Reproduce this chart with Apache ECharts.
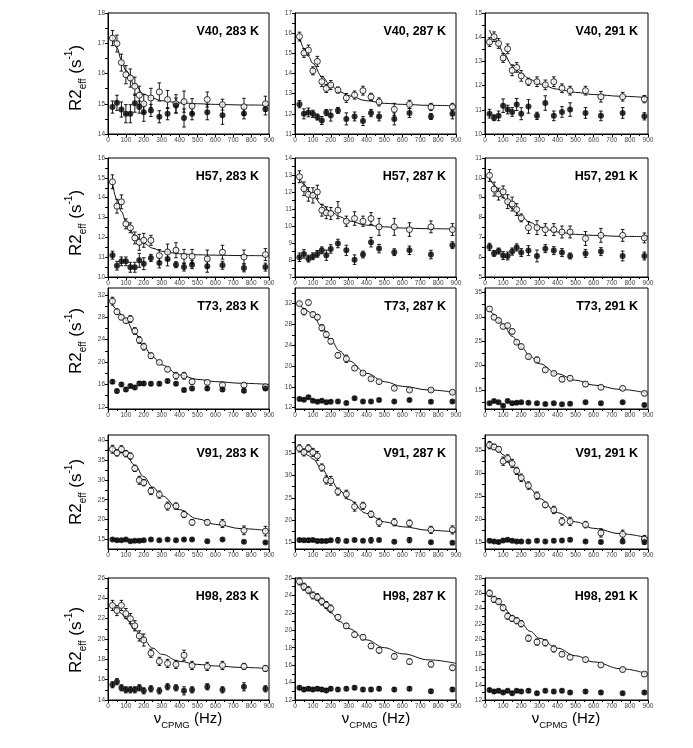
<!DOCTYPE html>
<html><head><meta charset="utf-8">
<script src="https://cdn.jsdelivr.net/npm/echarts@6/dist/echarts.min.js"></script>
<style>html,body{margin:0;padding:0;background:#fff}#c{width:693px;height:748px}</style>
</head><body><div id="c"></div>
<script>
// ---- common data ----
const X = [25, 50, 75, 100, 125, 150, 175, 200, 240, 287, 333, 380, 425, 470, 555, 640, 760, 880];
const FIT_X = [25, 50, 75, 100, 150, 200, 250, 300, 400, 500, 600, 750, 900];
const X_TICKS = [0, 100, 200, 300, 400, 500, 600, 700, 800, 900];
const TITLES = ['V40, 283 K','V40, 287 K','V40, 291 K','H57, 283 K','H57, 287 K','H57, 291 K','T73, 283 K','T73, 287 K','T73, 291 K','V91, 283 K','V91, 287 K','V91, 291 K','H98, 283 K','H98, 287 K','H98, 291 K'];

// ---- y tick labels per panel ----
const Y_TICKS_V40_283 = [14, 15, 16, 17, 18];
const Y_TICKS_V40_287 = [11, 12, 13, 14, 15, 16, 17];
const Y_TICKS_V40_291 = [10, 11, 12, 13, 14, 15];
const Y_TICKS_H57_283 = [10, 11, 12, 13, 14, 15, 16];
const Y_TICKS_H57_287 = [7, 8, 9, 10, 11, 12, 13, 14];
const Y_TICKS_H57_291 = [5, 6, 7, 8, 9, 10, 11];
const Y_TICKS_T73_283 = [12, 16, 20, 24, 28, 32];
const Y_TICKS_T73_287 = [12, 16, 20, 24, 28, 32];
const Y_TICKS_T73_291 = [15, 20, 25, 30, 35];
const Y_TICKS_V91_283 = [15, 20, 25, 30, 35, 40];
const Y_TICKS_V91_287 = [15, 20, 25, 30, 35];
const Y_TICKS_V91_291 = [15, 20, 25, 30, 35];
const Y_TICKS_H98_283 = [14, 16, 18, 20, 22, 24, 26];
const Y_TICKS_H98_287 = [12, 14, 16, 18, 20, 22, 24, 26];
const Y_TICKS_H98_291 = [12, 14, 16, 18, 20, 22, 24, 26, 28];

// ---- V40 ----
const V40_283_open = [17.17, 16.99, 16.36, 15.96, 15.85, 15.58, 15.28, 15.0, 15.19, 15.39, 15.14, 15.0, 15.07, 14.92, 15.14, 14.97, 14.9, 15.0];
const V40_283_openErr = [0.25, 0.28, 0.28, 0.3, 0.3, 0.3, 0.3, 0.3, 0.32, 0.3, 0.3, 0.3, 0.35, 0.25, 0.25, 0.18, 0.28, 0.25];
const V40_283_filled = [14.89, 15.03, 14.81, 14.67, 14.67, 15.02, 14.89, 14.72, 14.78, 14.57, 14.67, 14.94, 14.53, 14.67, 14.72, 14.62, 14.68, 14.83];
const V40_283_filledErr = [0.2, 0.25, 0.25, 0.3, 0.3, 0.3, 0.2, 0.3, 0.2, 0.2, 0.2, 0.25, 0.3, 0.2, 0.25, 0.3, 0.18, 0.2];
const V40_283_fit = [17.25, 16.85, 16.45, 16.1, 15.62, 15.32, 15.18, 15.1, 15.03, 15.0, 14.98, 14.96, 14.95];

const V40_287_open = [15.83, 15.02, 15.16, 14.13, 14.6, 13.6, 13.26, 13.43, 13.18, 12.79, 12.93, 13.15, 12.84, 12.59, 12.22, 12.47, 12.34, 12.34];
const V40_287_openErr = [0.22, 0.22, 0.25, 0.2, 0.25, 0.25, 0.2, 0.22, 0.15, 0.22, 0.2, 0.22, 0.18, 0.2, 0.3, 0.2, 0.18, 0.18];
const V40_287_filled = [12.48, 12.0, 12.07, 12.0, 11.84, 11.67, 12.06, 11.92, 12.17, 11.75, 11.87, 11.64, 12.04, 11.87, 11.75, 12.04, 11.87, 12.0];
const V40_287_filledErr = [0.18, 0.25, 0.22, 0.18, 0.15, 0.2, 0.15, 0.28, 0.15, 0.3, 0.22, 0.22, 0.18, 0.22, 0.3, 0.22, 0.15, 0.25];
const V40_287_fit = [15.85, 15.25, 14.85, 14.5, 13.85, 13.4, 13.1, 12.9, 12.65, 12.52, 12.47, 12.42, 12.4];

const V40_291_open = [13.8, 14.02, 13.74, 13.14, 13.52, 12.63, 12.75, 12.4, 12.16, 12.16, 12.03, 12.16, 11.89, 11.79, 11.79, 11.54, 11.54, 11.44];
const V40_291_openErr = [0.18, 0.2, 0.2, 0.18, 0.2, 0.22, 0.2, 0.22, 0.15, 0.2, 0.2, 0.2, 0.18, 0.18, 0.18, 0.22, 0.18, 0.15];
const V40_291_filled = [10.84, 10.67, 10.75, 11.17, 11.01, 10.91, 11.22, 10.84, 11.14, 10.75, 11.28, 10.75, 10.91, 11.01, 10.87, 10.75, 10.87, 10.73];
const V40_291_filledErr = [0.18, 0.12, 0.2, 0.28, 0.18, 0.18, 0.25, 0.25, 0.28, 0.15, 0.3, 0.2, 0.22, 0.28, 0.22, 0.2, 0.22, 0.15];
const V40_291_fit = [14.3, 14.0, 13.7, 13.35, 12.85, 12.5, 12.25, 12.07, 11.85, 11.72, 11.63, 11.56, 11.5];

// ---- H57 ----
const H57_283_open = [14.8, 13.57, 13.79, 12.68, 12.48, 11.97, 11.75, 11.85, 11.85, 11.08, 11.26, 11.35, 11.04, 11.04, 10.91, 11.25, 11.01, 11.13];
const H57_283_openErr = [0.35, 0.35, 0.35, 0.25, 0.25, 0.3, 0.4, 0.35, 0.25, 0.3, 0.4, 0.38, 0.35, 0.35, 0.45, 0.35, 0.35, 0.3];
const H57_283_filled = [11.1, 10.57, 10.79, 10.79, 10.49, 10.49, 10.84, 10.67, 10.96, 10.71, 10.91, 10.62, 10.5, 10.62, 10.54, 10.59, 10.46, 10.5];
const H57_283_filledErr = [0.2, 0.22, 0.22, 0.22, 0.25, 0.25, 0.35, 0.3, 0.18, 0.25, 0.35, 0.15, 0.2, 0.2, 0.3, 0.2, 0.2, 0.2];
const H57_283_fit = [14.75, 13.9, 13.3, 12.8, 12.1, 11.7, 11.45, 11.3, 11.17, 11.12, 11.1, 11.08, 11.07];

const H57_287_open = [12.9, 12.19, 11.86, 11.8, 12.0, 10.93, 10.78, 10.74, 10.93, 10.28, 10.44, 10.28, 10.44, 9.95, 9.95, 9.79, 9.95, 9.79];
const H57_287_openErr = [0.35, 0.4, 0.4, 0.45, 0.4, 0.35, 0.35, 0.35, 0.5, 0.3, 0.4, 0.3, 0.35, 0.5, 0.5, 0.4, 0.35, 0.35];
const H57_287_filled = [8.16, 8.36, 8.08, 8.22, 8.36, 8.57, 8.28, 8.65, 8.97, 8.57, 8.02, 8.32, 9.05, 8.67, 8.46, 8.57, 8.32, 8.87];
const H57_287_filledErr = [0.25, 0.25, 0.2, 0.2, 0.2, 0.2, 0.3, 0.25, 0.25, 0.3, 0.28, 0.2, 0.28, 0.25, 0.2, 0.25, 0.25, 0.2];
const H57_287_fit = [12.85, 12.45, 12.1, 11.8, 11.25, 10.85, 10.55, 10.3, 10.05, 9.95, 9.88, 9.84, 9.82];

const H57_291_open = [10.12, 9.43, 9.18, 9.29, 8.8, 8.68, 8.4, 7.98, 7.49, 7.49, 7.39, 7.39, 7.27, 7.27, 6.94, 7.1, 7.1, 6.97];
const H57_291_openErr = [0.3, 0.35, 0.3, 0.3, 0.35, 0.35, 0.3, 0.2, 0.3, 0.35, 0.3, 0.3, 0.3, 0.3, 0.35, 0.35, 0.3, 0.25];
const H57_291_filled = [6.52, 6.19, 6.31, 6.08, 6.06, 6.28, 6.49, 6.23, 6.33, 6.06, 6.43, 6.33, 6.23, 6.06, 6.19, 6.28, 6.06, 6.06];
const H57_291_filledErr = [0.18, 0.15, 0.15, 0.2, 0.2, 0.18, 0.18, 0.2, 0.25, 0.3, 0.2, 0.2, 0.2, 0.15, 0.2, 0.2, 0.25, 0.2];
const H57_291_fit = [10.05, 9.65, 9.3, 9.0, 8.45, 8.05, 7.75, 7.52, 7.27, 7.15, 7.1, 7.05, 7.03];

// ---- T73 ----
const T73_283_open = [30.9, 29.0, 28.0, 27.4, 27.7, 25.55, 23.94, 22.75, 21.13, 19.94, 18.7, 17.55, 17.55, 16.48, 16.36, 15.88, 15.88, 15.58];
const T73_283_openErr = [0.7, 0.5, 0.4, 0.4, 0.6, 0.6, 0.6, 0.6, 0.5, 0.3, 0.4, 0.6, 0.6, 0.5, 0.4, 0.4, 0.4, 0.4];
const T73_283_filled = [16.48, 14.8, 16.0, 15.1, 15.7, 15.46, 16.18, 16.18, 16.12, 16.12, 16.6, 16.12, 14.98, 15.28, 15.28, 15.1, 14.87, 15.28];
const T73_283_filledErr = [0.3, 0.3, 0.3, 0.3, 0.3, 0.3, 0.3, 0.3, 0.3, 0.3, 0.3, 0.3, 0.3, 0.3, 0.3, 0.3, 0.3, 0.3];
const T73_283_fit = [30.3, 29.4, 28.5, 27.5, 25.2, 22.8, 20.9, 19.5, 17.7, 16.9, 16.5, 16.2, 16.0];

const T73_287_open = [32.0, 30.45, 32.2, 29.9, 29.4, 27.35, 26.06, 24.77, 22.06, 21.4, 19.6, 18.65, 17.55, 17.0, 15.74, 15.4, 15.4, 14.97];
const T73_287_openErr = [0.3, 0.6, 0.5, 0.5, 0.5, 0.6, 0.6, 0.5, 0.5, 0.7, 0.4, 0.3, 0.3, 0.3, 0.3, 0.3, 0.3, 0.3];
const T73_287_filled = [13.68, 13.55, 14.0, 13.35, 13.15, 13.35, 13.03, 13.15, 13.2, 12.9, 13.8, 13.2, 13.2, 13.48, 13.2, 13.48, 13.15, 13.2];
const T73_287_filledErr = [0.25, 0.25, 0.25, 0.25, 0.25, 0.25, 0.25, 0.25, 0.25, 0.25, 0.25, 0.25, 0.25, 0.25, 0.25, 0.25, 0.25, 0.25];
const T73_287_fit = [31.8, 31.1, 30.5, 29.7, 27.5, 25.0, 22.9, 21.0, 18.6, 17.0, 16.1, 15.4, 14.9];

const T73_291_open = [31.6, 29.9, 29.25, 28.0, 28.2, 27.0, 24.8, 23.9, 21.85, 21.16, 19.1, 18.4, 17.2, 17.4, 16.2, 15.55, 15.34, 14.3];
const T73_291_openErr = [0.5, 0.4, 0.4, 0.4, 0.4, 0.5, 0.4, 0.5, 0.5, 0.6, 0.4, 0.4, 0.5, 0.5, 0.5, 0.4, 0.4, 0.4];
const T73_291_filled = [12.26, 12.74, 12.47, 11.78, 12.74, 12.26, 12.4, 12.47, 12.4, 12.26, 12.12, 12.26, 12.05, 12.19, 12.47, 12.26, 12.47, 11.92];
const T73_291_filledErr = [0.25, 0.25, 0.25, 0.25, 0.25, 0.25, 0.25, 0.25, 0.25, 0.25, 0.25, 0.25, 0.25, 0.25, 0.25, 0.25, 0.25, 0.25];
const T73_291_fit = [31.5, 30.5, 29.5, 28.4, 26.0, 23.8, 21.9, 20.4, 18.3, 17.0, 16.0, 15.1, 14.3];

// ---- V91 ----
const V91_283_open = [37.7, 36.8, 37.7, 36.6, 36.0, 32.9, 29.9, 29.3, 27.2, 26.3, 23.4, 23.4, 21.3, 19.3, 19.3, 19.0, 17.3, 17.1];
const V91_283_openErr = [1.0, 0.8, 0.9, 0.8, 0.8, 0.8, 1.0, 0.8, 0.9, 0.9, 1.0, 0.8, 0.8, 0.7, 0.7, 1.0, 1.1, 1.2];
const V91_283_filled = [15.0, 14.83, 14.83, 15.0, 14.58, 14.66, 14.66, 14.83, 15.0, 14.83, 15.0, 14.83, 15.0, 15.0, 14.58, 15.0, 14.41, 14.25];
const V91_283_filledErr = [0.3, 0.3, 0.3, 0.3, 0.3, 0.3, 0.3, 0.3, 0.3, 0.3, 0.3, 0.3, 0.3, 0.3, 0.3, 0.3, 0.3, 0.3];
const V91_283_fit = [38.1, 37.6, 37.0, 36.2, 33.7, 30.8, 28.2, 26.0, 22.5, 20.2, 18.8, 17.7, 17.2];

const V91_287_open = [36.1, 35.2, 36.1, 35.2, 34.4, 31.8, 29.0, 28.8, 26.4, 25.8, 23.0, 23.2, 21.3, 19.5, 19.5, 19.3, 17.8, 17.8];
const V91_287_openErr = [0.8, 0.8, 0.8, 0.9, 1.0, 0.8, 0.9, 1.0, 0.8, 0.9, 1.0, 0.8, 0.7, 0.9, 0.8, 0.7, 0.8, 0.9];
const V91_287_filled = [15.5, 15.45, 15.45, 15.5, 15.3, 15.3, 15.3, 15.45, 15.45, 15.3, 15.5, 15.37, 15.45, 15.5, 15.15, 15.5, 15.0, 14.9];
const V91_287_filledErr = [0.3, 0.3, 0.4, 0.3, 0.3, 0.3, 0.3, 0.3, 0.6, 0.3, 0.3, 0.3, 0.6, 0.3, 0.3, 0.6, 0.3, 0.3];
const V91_287_fit = [35.6, 35.1, 34.5, 33.7, 31.5, 28.9, 26.6, 24.6, 21.5, 19.6, 18.5, 17.7, 17.3];

const V91_291_open = [36.1, 35.7, 35.2, 32.6, 33.2, 32.1, 30.5, 29.0, 27.3, 25.1, 23.1, 22.0, 19.5, 19.5, 18.8, 17.0, 16.7, 15.65];
const V91_291_openErr = [0.8, 0.6, 0.6, 0.9, 0.8, 0.9, 0.8, 0.8, 0.8, 0.8, 0.6, 0.8, 0.8, 0.9, 0.7, 0.9, 0.9, 0.8];
const V91_291_filled = [15.3, 15.15, 15.0, 15.36, 15.5, 15.3, 15.15, 15.15, 15.15, 15.3, 15.15, 15.3, 15.36, 15.5, 15.15, 15.0, 15.15, 15.0];
const V91_291_filledErr = [0.3, 0.3, 0.3, 0.3, 0.3, 0.3, 0.3, 0.3, 0.3, 0.3, 0.3, 0.3, 0.3, 0.3, 0.3, 0.3, 0.3, 0.5];
const V91_291_fit = [36.2, 35.6, 34.9, 34.0, 31.6, 29.0, 26.6, 24.5, 21.4, 19.4, 18.0, 16.8, 15.9];

// ---- H98 ----
const H98_283_open = [23.3, 22.8, 23.3, 22.5, 22.0, 21.3, 20.3, 19.9, 18.6, 17.8, 17.6, 17.5, 18.4, 17.4, 17.3, 17.4, 17.3, 17.1];
const H98_283_openErr = [0.5, 0.5, 0.5, 0.5, 0.5, 0.5, 0.5, 0.6, 0.4, 0.4, 0.4, 0.4, 0.5, 0.4, 0.4, 0.4, 0.3, 0.3];
const H98_283_filled = [15.5, 15.8, 15.2, 15.0, 15.0, 15.0, 15.2, 14.9, 15.1, 14.9, 15.3, 15.2, 14.9, 15.0, 15.3, 15.0, 15.3, 15.1];
const H98_283_filledErr = [0.3, 0.3, 0.3, 0.3, 0.3, 0.3, 0.3, 0.3, 0.3, 0.3, 0.3, 0.3, 0.4, 0.3, 0.3, 0.3, 0.4, 0.3];
const H98_283_fit = [23.5, 23.0, 22.5, 22.0, 20.9, 19.9, 19.1, 18.5, 17.8, 17.5, 17.35, 17.2, 17.1];

const H98_287_open = [25.6, 25.0, 24.6, 24.0, 23.8, 23.3, 22.9, 22.5, 21.5, 20.5, 19.5, 19.2, 18.2, 17.7, 17.0, 16.4, 16.1, 15.7];
const H98_287_openErr = [0.4, 0.4, 0.4, 0.4, 0.4, 0.4, 0.4, 0.4, 0.3, 0.3, 0.3, 0.3, 0.3, 0.3, 0.3, 0.3, 0.3, 0.3];
const H98_287_filled = [13.4, 13.2, 13.3, 13.2, 13.3, 13.2, 13.1, 13.3, 13.2, 13.3, 13.4, 13.2, 13.2, 13.3, 13.2, 13.3, 13.0, 13.2];
const H98_287_filledErr = [0.2, 0.2, 0.2, 0.2, 0.2, 0.2, 0.2, 0.2, 0.2, 0.2, 0.2, 0.2, 0.2, 0.2, 0.2, 0.2, 0.2, 0.2];
const H98_287_fit = [25.6, 25.0, 24.5, 24.0, 23.0, 22.0, 21.0, 20.2, 18.9, 18.0, 17.3, 16.6, 16.2];

const H98_291_open = [26.0, 25.2, 24.9, 24.1, 23.0, 22.7, 22.4, 22.0, 20.1, 19.6, 19.5, 18.7, 18.0, 17.6, 17.3, 16.6, 16.0, 15.4];
const H98_291_openErr = [0.4, 0.4, 0.4, 0.4, 0.4, 0.4, 0.4, 0.4, 0.4, 0.4, 0.4, 0.4, 0.3, 0.3, 0.3, 0.3, 0.3, 0.3];
const H98_291_filled = [13.3, 13.1, 13.2, 13.0, 13.2, 12.9, 13.2, 13.1, 13.2, 12.9, 13.2, 13.1, 13.2, 13.0, 13.1, 13.0, 12.9, 13.0];
const H98_291_filledErr = [0.2, 0.2, 0.2, 0.2, 0.2, 0.2, 0.2, 0.2, 0.2, 0.2, 0.2, 0.2, 0.2, 0.2, 0.2, 0.2, 0.2, 0.2];
const H98_291_fit = [26.0, 25.4, 24.8, 24.2, 23.0, 22.0, 21.0, 20.1, 18.8, 17.8, 17.0, 16.1, 15.4];

// ---- assemble panels ----
const PANELS = [
  {open: V40_283_open, oe: V40_283_openErr, filled: V40_283_filled, fe: V40_283_filledErr, fit: V40_283_fit, ticks: Y_TICKS_V40_283},
  {open: V40_287_open, oe: V40_287_openErr, filled: V40_287_filled, fe: V40_287_filledErr, fit: V40_287_fit, ticks: Y_TICKS_V40_287},
  {open: V40_291_open, oe: V40_291_openErr, filled: V40_291_filled, fe: V40_291_filledErr, fit: V40_291_fit, ticks: Y_TICKS_V40_291},
  {open: H57_283_open, oe: H57_283_openErr, filled: H57_283_filled, fe: H57_283_filledErr, fit: H57_283_fit, ticks: Y_TICKS_H57_283},
  {open: H57_287_open, oe: H57_287_openErr, filled: H57_287_filled, fe: H57_287_filledErr, fit: H57_287_fit, ticks: Y_TICKS_H57_287},
  {open: H57_291_open, oe: H57_291_openErr, filled: H57_291_filled, fe: H57_291_filledErr, fit: H57_291_fit, ticks: Y_TICKS_H57_291},
  {open: T73_283_open, oe: T73_283_openErr, filled: T73_283_filled, fe: T73_283_filledErr, fit: T73_283_fit, ticks: Y_TICKS_T73_283},
  {open: T73_287_open, oe: T73_287_openErr, filled: T73_287_filled, fe: T73_287_filledErr, fit: T73_287_fit, ticks: Y_TICKS_T73_287},
  {open: T73_291_open, oe: T73_291_openErr, filled: T73_291_filled, fe: T73_291_filledErr, fit: T73_291_fit, ticks: Y_TICKS_T73_291},
  {open: V91_283_open, oe: V91_283_openErr, filled: V91_283_filled, fe: V91_283_filledErr, fit: V91_283_fit, ticks: Y_TICKS_V91_283},
  {open: V91_287_open, oe: V91_287_openErr, filled: V91_287_filled, fe: V91_287_filledErr, fit: V91_287_fit, ticks: Y_TICKS_V91_287},
  {open: V91_291_open, oe: V91_291_openErr, filled: V91_291_filled, fe: V91_291_filledErr, fit: V91_291_fit, ticks: Y_TICKS_V91_291},
  {open: H98_283_open, oe: H98_283_openErr, filled: H98_283_filled, fe: H98_283_filledErr, fit: H98_283_fit, ticks: Y_TICKS_H98_283},
  {open: H98_287_open, oe: H98_287_openErr, filled: H98_287_filled, fe: H98_287_filledErr, fit: H98_287_fit, ticks: Y_TICKS_H98_287},
  {open: H98_291_open, oe: H98_291_openErr, filled: H98_291_filled, fe: H98_291_filledErr, fit: H98_291_fit, ticks: Y_TICKS_H98_291}
];

// ---- layout (pixels) ----
const COL_LEFT = [108, 295, 485];
const COL_W = [161, 161, 163];
const ROW_TOP = [13, 158, 288, 435, 578];
const ROW_H = [121, 119, 121, 114, 122];
const Y_EXT = [[14, 18], [11, 17], [10, 15], [10, 16], [7, 14], [5, 11], [11.6, 33.25], [11.75, 35], [11.1, 35.9], [12.6, 41.3], [13.5, 39.1], [13.5, 38.3], [14, 26], [12, 26], [12, 28]];
const YTITLE_Y = [78, 223, 341, 492, 640];
const FONT = '"Liberation Sans", Arial, sans-serif';

function errItem(params, api) {
  const x = api.value(0), y = api.value(1), e = api.value(2);
  const a = api.coord([x, y + e]), b = api.coord([x, y - e]);
  const c = 1.8;
  const st = {stroke: '#000', lineWidth: 0.9};
  return {type: 'group', children: [
    {type: 'line', shape: {x1: a[0], y1: a[1], x2: b[0], y2: b[1]}, style: st},
    {type: 'line', shape: {x1: a[0] - c, y1: a[1], x2: a[0] + c, y2: a[1]}, style: st},
    {type: 'line', shape: {x1: b[0] - c, y1: b[1], x2: b[0] + c, y2: b[1]}, style: st}
  ]};
}

const grids = [], xAxes = [], yAxes = [], series = [], graphics = [];
PANELS.forEach((p, i) => {
  const r = Math.floor(i / 3), c = i % 3;
  grids.push({left: COL_LEFT[c], top: ROW_TOP[r], width: COL_W[c], height: ROW_H[r], show: true, borderColor: '#000', borderWidth: 1, backgroundColor: 'transparent'});
  xAxes.push({type: 'value', gridIndex: i, min: 0, max: 900, interval: 100,
    axisLine: {show: true, onZero: false, lineStyle: {color: '#000', width: 1}},
    axisTick: {show: true, length: 3, lineStyle: {color: '#000'}},
    minorTick: {show: true, splitNumber: 2, length: 2, lineStyle: {color: '#000'}},
    splitLine: {show: false},
    axisLabel: {fontSize: 6.5, color: '#444', fontFamily: FONT, margin: 3, showMinLabel: true, showMaxLabel: true}
  });
  const ext = Y_EXT[i];
  const step = p.ticks[1] - p.ticks[0];
  const minor = [];
  for (let v = p.ticks[0] - step; v <= ext[1] + 1e-9; v += step / 2) { if (v >= ext[0] - 1e-9) minor.push(+v.toFixed(3)); }
  yAxes.push({type: 'value', gridIndex: i, min: ext[0], max: ext[1],
    axisLine: {show: true, onZero: false, lineStyle: {color: '#000', width: 1}},
    axisTick: {show: true, length: 3, customValues: minor, lineStyle: {color: '#000'}},
    splitLine: {show: false},
    axisLabel: {fontSize: 6.5, color: '#444', fontFamily: FONT, margin: 3, customValues: p.ticks}
  });
  series.push({type: 'line', xAxisIndex: i, yAxisIndex: i, data: FIT_X.map((x, k) => [x, p.fit[k]]),
    smooth: 0.4, smoothMonotone: 'x', symbol: 'none', lineStyle: {color: '#111', width: 1}, z: 2, silent: true});
  series.push({type: 'custom', xAxisIndex: i, yAxisIndex: i, data: X.map((x, k) => [x, p.open[k], p.oe[k]]), renderItem: errItem, z: 3, silent: true});
  series.push({type: 'custom', xAxisIndex: i, yAxisIndex: i, data: X.map((x, k) => [x, p.filled[k], p.fe[k]]), renderItem: errItem, z: 3, silent: true});
  series.push({type: 'scatter', xAxisIndex: i, yAxisIndex: i, data: X.map((x, k) => [x, p.open[k]]), symbol: 'circle', symbolSize: 6,
    itemStyle: {color: '#fff', borderColor: '#000', borderWidth: 1}, z: 5, silent: true});
  series.push({type: 'scatter', xAxisIndex: i, yAxisIndex: i, data: X.map((x, k) => [x, p.filled[k]]), symbol: 'circle', symbolSize: 6,
    itemStyle: {color: '#000'}, z: 6, silent: true});
  graphics.push({type: 'text', x: COL_LEFT[c] + COL_W[c] - 10, y: ROW_TOP[r] + 19, z: 10,
    style: {text: TITLES[i], font: 'bold 12.5px ' + FONT, fill: '#000', align: 'right', verticalAlign: 'middle'}});
});

YTITLE_Y.forEach((yy) => {
  graphics.push({type: 'text', x: 76, y: yy, rotation: Math.PI / 2, z: 10,
    style: {text: '{m|R2}{s|eff}{m| (s}{p|-1}{m|)}', align: 'center', verticalAlign: 'middle',
      rich: {
        m: {fontSize: 17, fontFamily: FONT, fill: '#000', color: '#000', lineHeight: 24, verticalAlign: 'middle'},
        s: {fontSize: 10, fontFamily: FONT, fill: '#000', color: '#000', lineHeight: 14, verticalAlign: 'bottom'},
        p: {fontSize: 10, fontFamily: FONT, fill: '#000', color: '#000', lineHeight: 14, verticalAlign: 'top'}
      }}});
});
[188, 376, 566].forEach((xx) => {
  graphics.push({type: 'text', x: xx, y: 719, z: 10,
    style: {text: '{m|ν}{s|CPMG}{m| (Hz)}', align: 'center', verticalAlign: 'middle',
      rich: {
        m: {fontSize: 15, fontFamily: FONT, fill: '#000', color: '#000', lineHeight: 22, verticalAlign: 'middle'},
        s: {fontSize: 9.5, fontFamily: FONT, fill: '#000', color: '#000', lineHeight: 13, verticalAlign: 'bottom'}
      }}});
});

const chart = echarts.init(document.getElementById('c'), null, {renderer: 'canvas'});
chart.setOption({animation: false, backgroundColor: '#fff', grid: grids, xAxis: xAxes, yAxis: yAxes, series: series, graphic: graphics});
</script>
</body></html>
